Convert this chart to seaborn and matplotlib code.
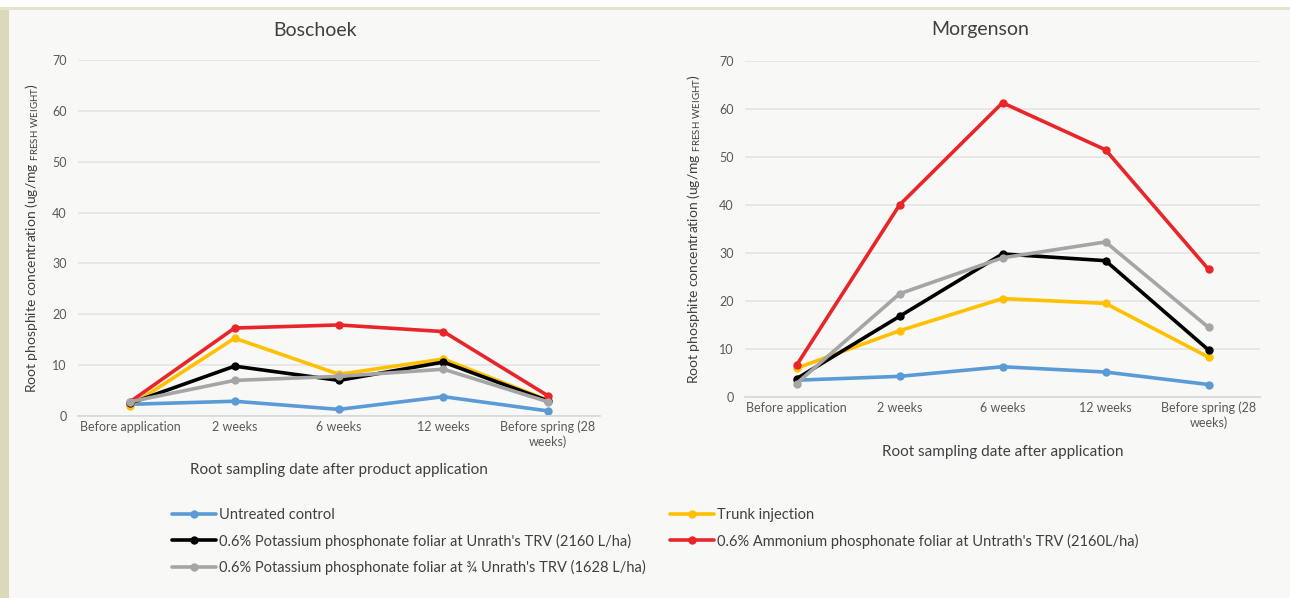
import matplotlib.pyplot as plt
import numpy as np
import pandas as pd
import seaborn as sns
from matplotlib.lines import Line2D
from matplotlib.patches import Rectangle

# data
dates = ["Before application", "2 weeks", "6 weeks", "12 weeks", "Before spring (28\nweeks)"]
treatments = [
    "Untreated control",
    "Trunk injection",
    "0.6% Potassium phosphonate foliar at Unrath's TRV (2160 L/ha)",
    "0.6% Ammonium phosphonate foliar at Untrath's TRV (2160L/ha)",
    "0.6% Potassium phosphonate foliar at \u00be Unrath's TRV (1628 L/ha)",
]
colors = ["#5b9bd5", "#ffc000", "#000000", "#e8262a", "#a5a5a5"]

bos_untreated = [2.3, 2.9, 1.3, 3.8, 1.0]
bos_trunk = [2.0, 15.3, 8.2, 11.2, 3.1]
bos_k_full = [2.5, 9.8, 7.0, 10.6, 3.0]
bos_nh4_full = [2.8, 17.3, 17.9, 16.6, 4.0]
bos_k_34 = [2.8, 7.0, 7.8, 9.2, 2.8]

mor_untreated = [3.5, 4.3, 6.3, 5.2, 2.6]
mor_trunk = [6.0, 13.8, 20.5, 19.5, 8.3]
mor_k_full = [3.8, 16.8, 29.8, 28.4, 9.8]
mor_nh4_full = [6.6, 40.0, 61.3, 51.5, 26.6]
mor_k_34 = [2.8, 21.5, 29.0, 32.3, 14.5]


def to_long(series):
    rows = []
    for name, vals in zip(treatments, series):
        for d, v in zip(dates, vals):
            rows.append({"date": d, "treatment": name, "value": v})
    return pd.DataFrame(rows)


bos = to_long([bos_untreated, bos_trunk, bos_k_full, bos_nh4_full, bos_k_34])
mor = to_long([mor_untreated, mor_trunk, mor_k_full, mor_nh4_full, mor_k_34])

sns.set_theme(style="white")
plt.rcParams["font.family"] = ["Lato", "DejaVu Sans"]
plt.rcParams["mathtext.fontset"] = "custom"
plt.rcParams["mathtext.rm"] = "Lato"

W, H = 1290, 598
fig = plt.figure(figsize=(W / 100, H / 100), dpi=100)
fig.patch.set_facecolor("#ffffff")
# slide-like frame
fig.add_artist(Rectangle((9 / W, 0), 1 - 9 / W, 1 - 10 / H, transform=fig.transFigure,
                         facecolor="#f8f8f6", edgecolor="none", zorder=-10))
fig.add_artist(Rectangle((0, 0), 9 / W, 1 - 8 / H, transform=fig.transFigure,
                         facecolor="#dcd8bc", edgecolor="none", zorder=-9))
fig.add_artist(Rectangle((0, 1 - 10 / H), 1, 3 / H, transform=fig.transFigure,
                         facecolor="#e6e3cd", edgecolor="none", zorder=-9))

pal = dict(zip(treatments, colors))
ylab = r"Root phosphite concentration (ug/mg $_{\rm FRESH\ WEIGHT}$)"

panels = [
    (bos, [78 / W, 1 - 416 / H, 522 / W, 356 / H], "Boschoek", 315,
     "Root sampling date after product application", 470, 32),
    (mor, [745 / W, 1 - 397 / H, 515 / W, 336 / H], "Morgenson", 980,
     "Root sampling date after application", 452, 694),
]

for df, rect, title, tx, xlab, xly, ylx in panels:
    ax = fig.add_axes(rect)
    ax.set_facecolor("none")
    sns.lineplot(data=df, x="date", y="value", hue="treatment", palette=pal,
                 marker="o", markersize=6, markeredgewidth=0, linewidth=2.6,
                 sort=False, legend=False, ax=ax)
    ax.set_xlim(-0.5, 4.5)
    ax.set_ylim(0, 70)
    ax.set_yticks(np.arange(0, 71, 10))
    ax.yaxis.grid(True, color="#e4e4e4", linewidth=1.2)
    ax.xaxis.grid(False)
    for s in ["top", "right", "left"]:
        ax.spines[s].set_visible(False)
    ax.spines["bottom"].set_color("#d9d9d9")
    ax.tick_params(axis="both", length=0, labelsize=9, labelcolor="#595959")
    ax.tick_params(axis="y", pad=8)
    ax.set_xlabel("")
    ax.set_ylabel("")
    fig.text(tx / W, 1 - 30 / H, title, ha="center", va="center", fontsize=14, color="#404040")
    fig.text((rect[0] + rect[2] / 2), 1 - xly / H, xlab, ha="center", va="center",
             fontsize=11, color="#404040")
    fig.text(ylx / W, rect[1] + rect[3] / 2, ylab, rotation=90, ha="center", va="center",
             fontsize=10, color="#404040")

handles = [Line2D([], [], color=c, marker="o", markersize=6, markeredgewidth=0, linewidth=2.6)
           for c in colors]
leg_kw = dict(frameon=False, fontsize=10.5, handlelength=3.0, handletextpad=0.2,
              labelspacing=0.8, labelcolor="#404040", loc="upper left", borderaxespad=0)
fig.legend([handles[0], handles[2], handles[4]], [treatments[0], treatments[2], treatments[4]],
           bbox_to_anchor=(166 / W, 1 - 502 / H), **leg_kw)
fig.legend([handles[1], handles[3]], [treatments[1], treatments[3]],
           bbox_to_anchor=(664 / W, 1 - 502 / H), **leg_kw)

fig.savefig("out.png", dpi=100, facecolor=fig.get_facecolor())
